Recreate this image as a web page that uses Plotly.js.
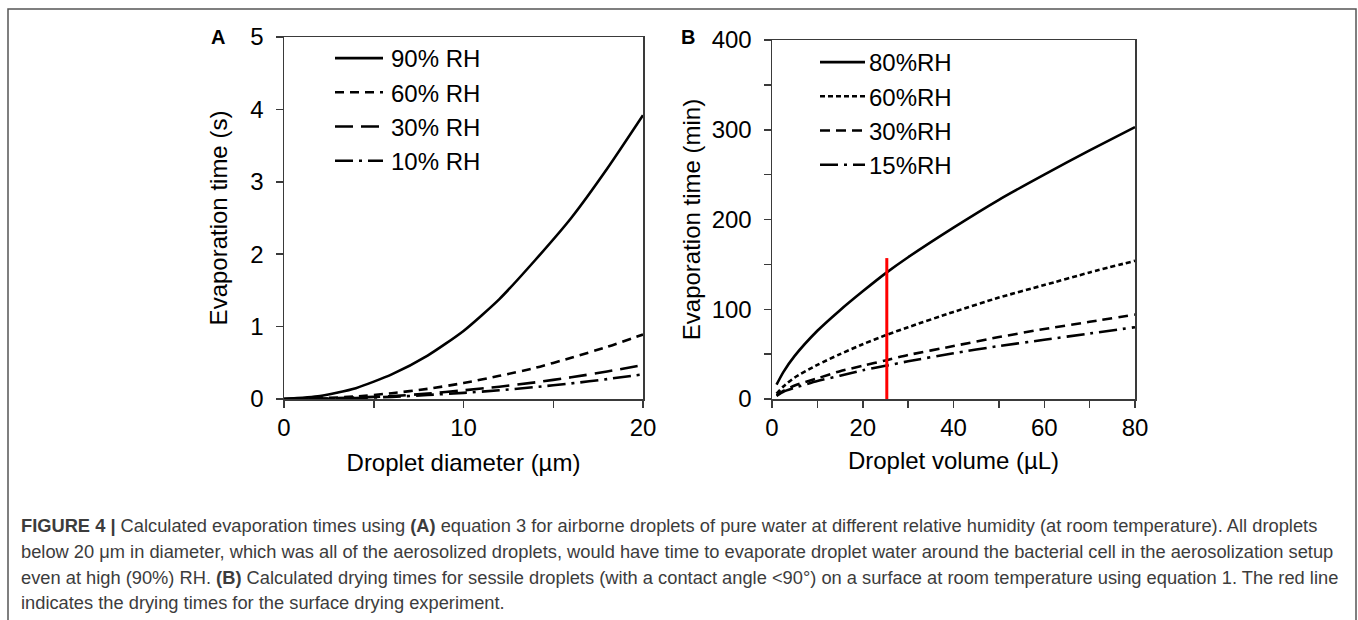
<!DOCTYPE html>
<html>
<head>
<meta charset="utf-8">
<script src="https://cdn.plot.ly/plotly-3.0.1.min.js"></script>
<style>
  html, body { margin: 0; padding: 0; background: #ffffff; }
  #chart { width: 1358px; height: 620px; }
</style>
</head>
<body>
<div id="chart"></div>
<script>
// ---- Panel A data: airborne droplets ----
const diameterUm = [0, 2, 4, 6, 8, 10, 12, 14, 16, 18, 20];
const evapA_90 = [0, 0.04, 0.15, 0.34, 0.6, 0.94, 1.38, 1.92, 2.5, 3.18, 3.92];
const evapA_60 = [0, 0.01, 0.035, 0.08, 0.14, 0.22, 0.32, 0.43, 0.57, 0.72, 0.89];
const evapA_30 = [0, 0.005, 0.02, 0.04, 0.075, 0.12, 0.17, 0.23, 0.30, 0.38, 0.47];
const evapA_10 = [0, 0.003, 0.014, 0.03, 0.055, 0.085, 0.12, 0.165, 0.215, 0.275, 0.34];
const legendA = ["90% RH", "60% RH", "30% RH", "10% RH"];

// ---- Panel B data: sessile droplets ----
const volumeUl = [1, 2.5, 5, 10, 15, 20, 25, 30, 40, 50, 60, 70, 80];
const evapB_80 = [16, 30, 48, 76, 99, 120, 140, 158, 191, 222, 250, 277, 303];
const evapB_60 = [6, 14, 24, 38, 50, 61, 71, 80, 97, 113, 127, 141, 154];
const evapB_30 = [4, 9, 15, 23, 31, 37, 43, 49, 59, 69, 78, 86, 94];
const evapB_15 = [3.5, 8, 12.5, 20, 26, 32, 37, 42, 51, 59, 66, 73, 80];
const legendB = ["80%RH", "60%RH", "30%RH", "15%RH"];
const redLineVolume = [25.3, 25.3];
const redLineTime = [0, 157];

// ---- Caption ----
const captionLines = [
  "<b>FIGURE 4 |</b> Calculated evaporation times using <b>(A)</b> equation 3 for airborne droplets of pure water at different relative humidity (at room temperature). All droplets",
  "below 20 μm in diameter, which was all of the aerosolized droplets, would have time to evaporate droplet water around the bacterial cell in the aerosolization setup",
  "even at high (90%) RH. <b>(B)</b> Calculated drying times for sessile droplets (with a contact angle &lt;90°) on a surface at room temperature using equation 1. The red line",
  "indicates the drying times for the surface drying experiment."
];

const W = 1358, H = 620;
const px = v => v / W;
const py = v => 1 - v / H;
const FONT = "Liberation Sans, Arial, sans-serif";
const AXC = "#3a3a3a";

function ln(dash) { return { color: "#000000", width: 2.6, dash: dash, shape: "spline", smoothing: 0.6 }; }

const traces = [
  { x: diameterUm, y: evapA_90, name: legendA[0], mode: "lines", line: ln("solid"), xaxis: "x", yaxis: "y", legend: "legend" },
  { x: diameterUm, y: evapA_60, name: legendA[1], mode: "lines", line: ln("9px,6px"), xaxis: "x", yaxis: "y", legend: "legend" },
  { x: diameterUm, y: evapA_30, name: legendA[2], mode: "lines", line: ln("18px,8px"), xaxis: "x", yaxis: "y", legend: "legend" },
  { x: diameterUm, y: evapA_10, name: legendA[3], mode: "lines", line: ln("18px,6px,3px,6px"), xaxis: "x", yaxis: "y", legend: "legend" },
  { x: volumeUl, y: evapB_80, name: legendB[0], mode: "lines", line: ln("solid"), xaxis: "x2", yaxis: "y2", legend: "legend2" },
  { x: volumeUl, y: evapB_60, name: legendB[1], mode: "lines", line: ln("5px,3px"), xaxis: "x2", yaxis: "y2", legend: "legend2" },
  { x: volumeUl, y: evapB_30, name: legendB[2], mode: "lines", line: ln("10px,6px"), xaxis: "x2", yaxis: "y2", legend: "legend2" },
  { x: volumeUl, y: evapB_15, name: legendB[3], mode: "lines", line: ln("18px,6px,3px,6px"), xaxis: "x2", yaxis: "y2", legend: "legend2" },
  { x: redLineVolume, y: redLineTime, mode: "lines", line: { color: "#ff0000", width: 3 }, xaxis: "x2", yaxis: "y2", showlegend: false, hoverinfo: "skip" }
];

const axisCommon = {
  showline: true, mirror: true, linecolor: AXC, linewidth: 1.5,
  ticks: "outside", ticklen: 7, tickwidth: 1.5, tickcolor: AXC,
  showgrid: false, zeroline: false,
  tickfont: { family: FONT, size: 24, color: "#000000" }
};
const titleFont = { family: FONT, size: 24, color: "#000000" };

const layout = {
  width: W, height: H,
  margin: { l: 0, r: 0, t: 0, b: 0 },
  paper_bgcolor: "#ffffff", plot_bgcolor: "#ffffff",
  font: { family: FONT, color: "#000000" },
  showlegend: true,
  xaxis: Object.assign({}, axisCommon, {
    domain: [px(284), px(643)], range: [0, 20], dtick: 10, tick0: 0,
    minor: { dtick: 5, ticks: "outside", ticklen: 7, tickwidth: 1.5, tickcolor: AXC },
    anchor: "y",
    title: { text: "Droplet diameter (µm)", font: titleFont, standoff: 14 }
  }),
  yaxis: Object.assign({}, axisCommon, {
    domain: [py(399), py(37)], range: [0, 5], dtick: 1, tick0: 0,
    anchor: "x", ticklabelstandoff: 7,
    title: { text: "Evaporation time (s)", font: titleFont, standoff: 16 }
  }),
  xaxis2: Object.assign({}, axisCommon, {
    domain: [px(772), px(1135)], range: [0, 80], dtick: 20, tick0: 0,
    minor: { dtick: 10, ticks: "outside", ticklen: 7, tickwidth: 1.5, tickcolor: AXC },
    anchor: "y2",
    title: { text: "Droplet volume (µL)", font: titleFont, standoff: 12 }
  }),
  yaxis2: Object.assign({}, axisCommon, {
    domain: [py(399), py(40)], range: [0, 400], dtick: 100, tick0: 0,
    minor: { dtick: 50, ticks: "outside", ticklen: 7, tickwidth: 1.5, tickcolor: AXC },
    anchor: "x2", ticklabelstandoff: 7,
    title: { text: "Evaporation time (min)", font: titleFont, standoff: 4 }
  }),
  legend: {
    x: px(330), y: py(36), xanchor: "left", yanchor: "top",
    bgcolor: "rgba(0,0,0,0)", borderwidth: 0,
    font: { family: FONT, size: 24, color: "#000000" },
    tracegroupgap: 0, itemwidth: 51
  },
  legend2: {
    x: px(815), y: py(40), xanchor: "left", yanchor: "top",
    bgcolor: "rgba(0,0,0,0)", borderwidth: 0,
    font: { family: FONT, size: 24, color: "#000000" },
    tracegroupgap: 0, itemwidth: 44
  },
  shapes: [
    { type: "rect", xref: "paper", yref: "paper",
      x0: px(8), x1: px(1356), y0: py(700), y1: py(9),
      line: { color: "#555555", width: 1.5 }, fillcolor: "rgba(0,0,0,0)", layer: "below" }
  ],
  annotations: [
    { text: "<b>A</b>", xref: "paper", yref: "paper", x: px(218), y: py(37), xanchor: "center", yanchor: "middle",
      showarrow: false, font: { family: FONT, size: 20, color: "#000000" } },
    { text: "<b>B</b>", xref: "paper", yref: "paper", x: px(688), y: py(37), xanchor: "center", yanchor: "middle",
      showarrow: false, font: { family: FONT, size: 20, color: "#000000" } }
  ]
};

const captionY = [525, 551, 577, 602];
captionLines.forEach((t, i) => {
  layout.annotations.push({
    text: t, xref: "paper", yref: "paper", x: px(19), y: py(captionY[i]),
    xanchor: "left", yanchor: "middle", align: "left", showarrow: false,
    font: { family: FONT, size: 18.3, color: "#3c3c3c" }
  });
});

Plotly.newPlot("chart", traces, layout, { staticPlot: true, displayModeBar: false }).then(gd => {
  // lengthen legend line samples to match the reference key
  const lens = { legend: 48, legend2: 45 };
  Object.keys(lens).forEach(cls => {
    gd.querySelectorAll("g." + cls + " g.legendlines path").forEach(p => {
      p.setAttribute("d", "M5,0h" + lens[cls]);
    });
  });
});
</script>
</body>
</html>
